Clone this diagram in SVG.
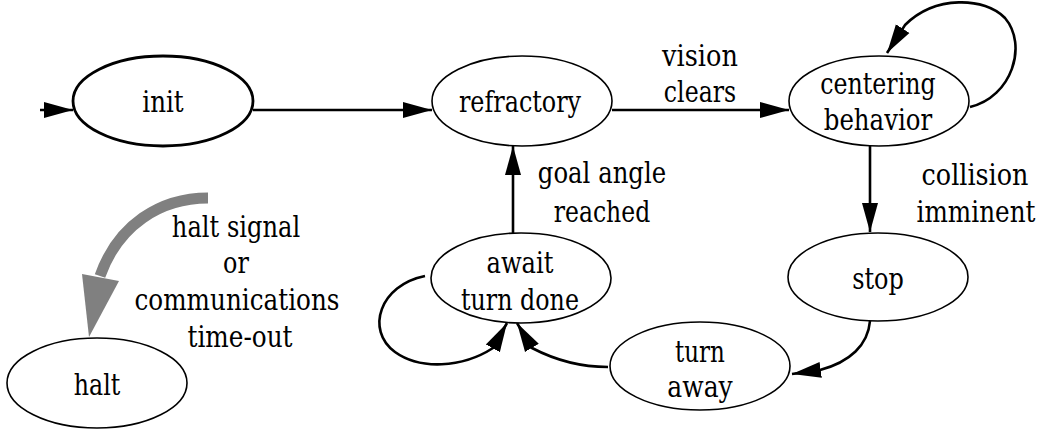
<svg xmlns="http://www.w3.org/2000/svg" width="1041" height="433" viewBox="0 0 1041 433">
<style>
  .node ellipse { fill: #fff; stroke: #000; stroke-width: 1.6; }
  #init ellipse { stroke-width: 2.8; }
  .lbl text { font-family: 'DejaVu Serif', serif; font-size: 29px; fill: #000; text-anchor: middle; }
  .edge { fill: none; stroke: #000; stroke-width: 2.6; marker-end: url(#arrow); }
</style>
<defs>
  <marker id="arrow" markerUnits="userSpaceOnUse" markerWidth="30" markerHeight="18" refX="29" refY="8" orient="auto" viewBox="0 0 30 16">
    <path d="M0,0 L29,8 L0,16 Z" fill="#000"/>
  </marker>
</defs>
<rect width="1041" height="433" fill="#fff"/>
<g id="connectors">
  <path class="edge" d="M 40 110 L 73 110"/>
  <path class="edge" d="M 253 110 L 432 110"/>
  <path class="edge" d="M 612 110 L 789 110"/>
  <path class="edge" d="M 970 107 C 1012 97, 1028 45, 1005 18 C 985 -3, 935 -5, 905 25 L 887 53"/>
  <path class="edge" d="M 870 146 L 870 232"/>
  <path class="edge" d="M 870 321 C 868 345, 850 362, 820 370 L 792 374"/>
  <path class="edge" d="M 608 367 C 580 367, 555 360, 532 348 L 517 323"/>
  <path class="edge" d="M 425 276 C 380 285, 365 330, 395 352 C 420 370, 462 368, 493 348 L 507 323"/>
  <path class="edge" d="M 513 233 L 513 146"/>
  <path d="M 208 198 C 160 198, 118 225, 100 276" fill="none" stroke="#808080" stroke-width="11"/>
  <polygon points="82,274 119,281 89,337" fill="#808080"/>
  <g class="lbl">
    <text x="700" y="66" textLength="75.8" lengthAdjust="spacingAndGlyphs">vision</text>
    <text x="700" y="102" textLength="72.3" lengthAdjust="spacingAndGlyphs">clears</text>
    <text x="975" y="185" textLength="106.8" lengthAdjust="spacingAndGlyphs">collision</text>
    <text x="976" y="222" textLength="118.9" lengthAdjust="spacingAndGlyphs">imminent</text>
    <text x="602" y="183" textLength="128.3" lengthAdjust="spacingAndGlyphs">goal angle</text>
    <text x="602" y="222" textLength="96.4" lengthAdjust="spacingAndGlyphs">reached</text>
    <text x="236" y="237" textLength="128.3" lengthAdjust="spacingAndGlyphs">halt signal</text>
    <text x="236" y="273" textLength="25.8" lengthAdjust="spacingAndGlyphs">or</text>
    <text x="237" y="310" textLength="204.9" lengthAdjust="spacingAndGlyphs">communications</text>
    <text x="240" y="347" textLength="105.1" lengthAdjust="spacingAndGlyphs">time-out</text>
  </g>
</g>
<g class="lbl">
<g id="init" class="node"><ellipse cx="163" cy="101" rx="90" ry="45"/><text x="163" y="112" textLength="41.4" lengthAdjust="spacingAndGlyphs">init</text></g>
<g id="refractory" class="node"><ellipse cx="522" cy="101" rx="90" ry="45"/><text x="520" y="112" textLength="122.2" lengthAdjust="spacingAndGlyphs">refractory</text></g>
<g id="centering" class="node"><ellipse cx="879" cy="101" rx="90" ry="45"/><text x="878" y="94" textLength="115.4" lengthAdjust="spacingAndGlyphs">centering</text><text x="878" y="130" textLength="108.5" lengthAdjust="spacingAndGlyphs">behavior</text></g>
<g id="stop" class="node"><ellipse cx="878" cy="277" rx="90" ry="44"/><text x="878" y="289" textLength="51.7" lengthAdjust="spacingAndGlyphs">stop</text></g>
<g id="turnaway" class="node"><ellipse cx="700" cy="366" rx="90" ry="44"/><text x="700" y="362" textLength="49.9" lengthAdjust="spacingAndGlyphs">turn</text><text x="700" y="397" textLength="65.4" lengthAdjust="spacingAndGlyphs">away</text></g>
<g id="await" class="node"><ellipse cx="521" cy="278" rx="90" ry="45"/><text x="520" y="273" textLength="67.1" lengthAdjust="spacingAndGlyphs">await</text><text x="520" y="310" textLength="118" lengthAdjust="spacingAndGlyphs">turn done</text></g>
<g id="halt" class="node"><ellipse cx="97" cy="383" rx="90" ry="45"/><text x="97" y="395" textLength="46.5" lengthAdjust="spacingAndGlyphs">halt</text></g>
</g>
</svg>
